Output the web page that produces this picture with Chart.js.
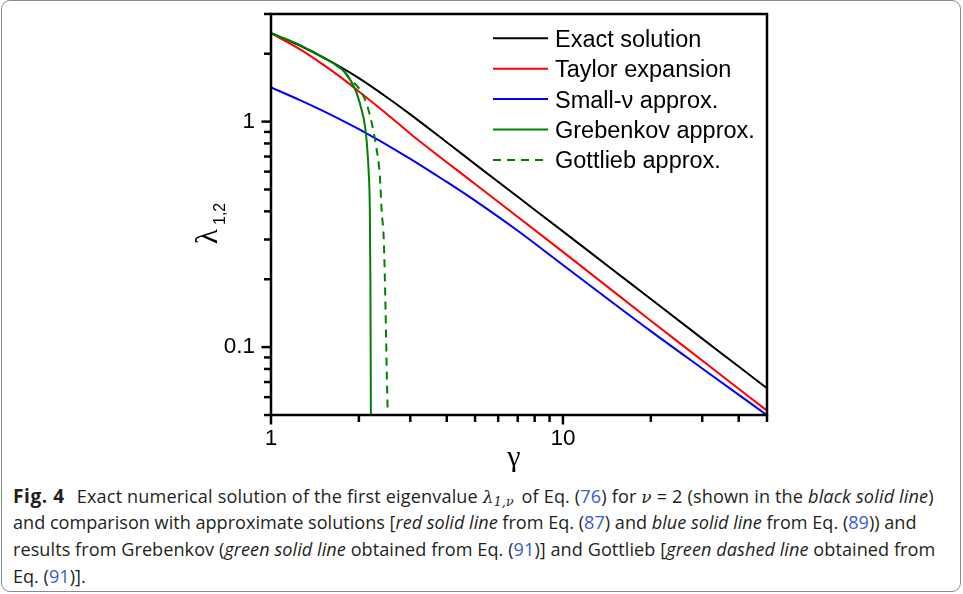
<!DOCTYPE html>
<html>
<head>
<meta charset="utf-8">
<script src="https://cdn.jsdelivr.net/npm/chart.js@4.4.1/dist/chart.umd.min.js"></script>
<style>
  body { margin: 0; background: #fff; width: 963px; height: 594px; position: relative; overflow: hidden; }
  #frame { position: absolute; left: 1px; top: 0; width: 958px; height: 590px; border: 1px solid #8a8a8a; border-radius: 9px; }
  #c { position: absolute; left: 0; top: 0; }
  #caption { position: absolute; left: 13px; top: 482.6px; font-family: "Open Sans"; font-size: 18.1px; line-height: 26.8px; color: #231f20; white-space: nowrap; }
  #caption div { height: 26.8px; }
  #caption b { font-weight: 700; font-size: 19px; letter-spacing: 0.6px; margin-right: 12px; }
  #caption .ref { color: #3a5bd0; }
  #caption .m { font-family: "DejaVu Serif"; font-style: italic; font-size: 17px; }
  #caption sub { font-size: 12.5px; line-height: 0; vertical-align: -3px; margin-right: 3px; }
</style>
</head>
<body>
<div id="frame"></div>
<canvas id="c" width="963" height="480"></canvas>
<div id="caption">
  <div style="letter-spacing:0.15px"><b>Fig. 4</b>Exact numerical solution of the first eigenvalue <span class="m">λ</span><sub class="m" style="font-size:12.5px">1,ν</sub> of Eq. (<span class="ref">76</span>) for <span class="m">ν</span>&nbsp;=&nbsp;2 (shown in the <i>black solid line</i>)</div>
  <div>and comparison with approximate solutions [<i>red solid line</i> from Eq. (<span class="ref">87</span>) and <i>blue solid line</i> from Eq. (<span class="ref">89</span>)) and</div>
  <div style="letter-spacing:0.06px">results from Grebenkov (<i>green solid line</i> obtained from Eq. (<span class="ref">91</span>)] and Gottlieb [<i>green dashed line</i> obtained from</div>
  <div>Eq. (<span class="ref">91</span>)].</div>
</div>
<script>
// values (log-log axes)
var gammaExact = [1, 1.25, 1.5, 1.75, 2, 2.5, 3, 4, 5, 7, 10, 15, 20, 30, 40, 50];
var lambdaExact = [2.468, 2.176, 1.931, 1.731, 1.558, 1.279, 1.077, 0.810, 0.648, 0.464, 0.326, 0.2176, 0.1633, 0.1091, 0.0820, 0.0657];

var gammaTaylor = [1, 1.25, 1.5, 1.75, 2, 2.5, 3, 5, 10, 20, 30, 50];
var lambdaTaylor = [2.468, 2.101, 1.798, 1.558, 1.360, 1.078, 0.884, 0.529, 0.2644, 0.1309, 0.0872, 0.0523];

var gammaSmall = [1, 1.25, 1.5, 2, 3, 4, 5, 7, 10, 20, 30, 50];
var lambdaSmall = [1.419, 1.249, 1.119, 0.925, 0.684, 0.540, 0.446, 0.328, 0.2313, 0.1177, 0.0804, 0.0499];

var gammaGreb = [1, 1.25, 1.5, 1.65, 1.79, 1.94, 2.04, 2.10, 2.13, 2.16, 2.18, 2.19, 2.2];
var lambdaGreb = [2.468, 2.19, 1.935, 1.80, 1.655, 1.395, 1.137, 0.95, 0.80, 0.6, 0.41, 0.2, 0.04];

var gammaGott = [1, 1.25, 1.5, 1.65, 1.79, 1.864, 1.96, 2.043, 2.13, 2.211, 2.29, 2.36, 2.392, 2.436, 2.468, 2.494, 2.508];
var lambdaGott = [2.468, 2.19, 1.935, 1.80, 1.66, 1.545, 1.45, 1.349, 1.19, 0.992, 0.78, 0.574, 0.408, 0.29, 0.1466, 0.074, 0.0535];

var seriesNames = ["Exact solution", "Taylor expansion", "Small-\u03bd approx.", "Grebenkov approx.", "Gottlieb approx."];
var seriesColors = ["#000000", "#ff0000", "#0000ff", "#008000", "#008000"];

var xTickValues = [1, 2, 3, 4, 5, 6, 7, 8, 9, 10, 20, 30, 40, 50];
var xTickLabels = { 1: "1", 10: "10" };
var yTickValues = [0.05, 0.06, 0.07, 0.08, 0.09, 0.1, 0.2, 0.3, 0.4, 0.5, 0.6, 0.7, 0.8, 0.9, 1, 2, 3];
var yTickLabels = { 0.1: "0.1", 1: "1" };

function pts(xs, ys) {
  return xs.map(function (g, i) { return { x: g, y: ys[i] }; });
}

// ticks, frame, legend and axis titles
var decorate = {
  id: "decorate",
  afterDatasetsDraw: function (chart) {
    var ctx = chart.ctx, a = chart.chartArea, x = chart.scales.x, y = chart.scales.y;
    ctx.save();
    ctx.strokeStyle = "#000";
    ctx.lineWidth = 2.5;
    xTickValues.forEach(function (v) {
      var px = x.getPixelForValue(v);
      var len = xTickLabels[v] ? 9.5 : 7;
      ctx.beginPath(); ctx.moveTo(px, a.bottom); ctx.lineTo(px, a.bottom + len); ctx.stroke();
    });
    yTickValues.forEach(function (v) {
      var py = y.getPixelForValue(v);
      var len = yTickLabels[v] ? 9.5 : 7;
      ctx.beginPath(); ctx.moveTo(a.left, py); ctx.lineTo(a.left - len, py); ctx.stroke();
    });
    ctx.strokeRect(a.left, a.top, a.right - a.left, a.bottom - a.top);

    // legend
    ctx.font = "23.5px 'Liberation Sans'";
    ctx.fillStyle = "#000";
    ctx.textBaseline = "alphabetic";
    chart.data.datasets.forEach(function (ds, i) {
      var ly = 38.3 + i * 30.4;
      ctx.strokeStyle = ds.borderColor;
      ctx.lineWidth = 2;
      ctx.setLineDash(ds.borderDash || []);
      ctx.beginPath(); ctx.moveTo(493, ly); ctx.lineTo(548, ly); ctx.stroke();
      ctx.setLineDash([]);
      ctx.fillText(ds.label, 555, ly + 8.5);
    });

    // x title
    ctx.font = "30px 'Liberation Serif'";
    ctx.textAlign = "center";
    ctx.fillText("\u03b3", (a.left + a.right) / 2 - 5, 466);

    // y title, rotated
    ctx.translate(212, 222);
    ctx.rotate(-Math.PI / 2);
    ctx.textAlign = "left";
    ctx.font = "31px 'Liberation Serif'";
    ctx.fillText("\u03bb", -22, 5);
    ctx.font = "16px 'Liberation Sans'";
    ctx.fillText("1,2", -3, 13);
    ctx.restore();
  }
};

Chart.defaults.font.family = "'Liberation Sans'";
Chart.defaults.color = "#000";

new Chart("c", {
  type: "line",
  data: {
    datasets: [
      { label: seriesNames[0], data: pts(gammaExact, lambdaExact), borderColor: seriesColors[0], order: 5 },
      { label: seriesNames[1], data: pts(gammaTaylor, lambdaTaylor), borderColor: seriesColors[1], order: 4 },
      { label: seriesNames[2], data: pts(gammaSmall, lambdaSmall), borderColor: seriesColors[2], order: 3 },
      { label: seriesNames[3], data: pts(gammaGreb, lambdaGreb), borderColor: seriesColors[3], order: 1 },
      { label: seriesNames[4], data: pts(gammaGott, lambdaGott), borderColor: seriesColors[4], borderDash: [8, 6], order: 2 }
    ]
  },
  options: {
    responsive: false,
    animation: false,
    events: [],
    layout: { padding: { top: 14, right: 196, left: 0, bottom: 0 } },
    elements: {
      point: { radius: 0 },
      line: { borderWidth: 2, cubicInterpolationMode: "monotone", fill: false }
    },
    plugins: { legend: { display: false }, tooltip: { enabled: false } },
    scales: {
      x: {
        type: "logarithmic",
        min: 1,
        max: 50,
        grid: { display: false, drawTicks: false },
        border: { display: false },
        afterBuildTicks: function (s) { s.ticks = xTickValues.map(function (v) { return { value: v }; }); },
        afterFit: function (s) { s.height = 65; },
        ticks: {
          autoSkip: false,
          maxRotation: 0,
          padding: 10,
          font: { size: 22.5 },
          callback: function (v) { return xTickLabels[v] || null; }
        }
      },
      y: {
        type: "logarithmic",
        min: 0.05,
        max: 3,
        grid: { display: false, drawTicks: false },
        border: { display: false },
        afterBuildTicks: function (s) { s.ticks = yTickValues.map(function (v) { return { value: v }; }); },
        afterFit: function (s) { s.width = 271; s.paddingTop = 0; s.paddingBottom = 0; },
        ticks: {
          autoSkip: false,
          padding: 16,
          font: { size: 22.5 },
          callback: function (v) { return yTickLabels[v] || null; }
        }
      }
    }
  },
  plugins: [decorate]
});
</script>
</body>
</html>
